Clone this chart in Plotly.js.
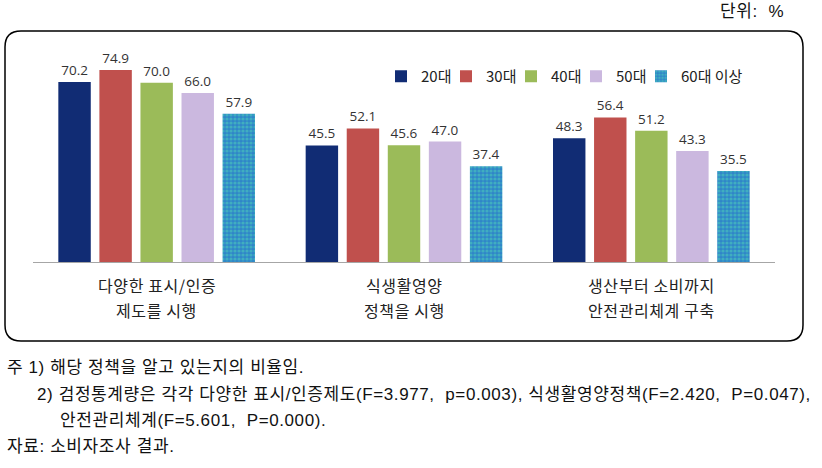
<!DOCTYPE html>
<html><head><meta charset="utf-8">
<script src="https://cdn.plot.ly/plotly-3.0.1.min.js"></script>
<style>body{margin:0;background:#fff}#c{width:822px;height:468px}
text.annotation-text{letter-spacing:0.6px}
</style>
</head><body><div id="c"></div>
<script>
const categories = ['다양한 표시/인증|제도를 시행', '식생활영양|정책을 시행', '생산부터 소비까지|안전관리체계 구축'];
const seriesNames = ['20대', '30대', '40대', '50대', '60대 이상'];
const v20 = [70.2, 45.5, 48.3];
const v30 = [74.9, 52.1, 56.4];
const v40 = [70.0, 45.6, 51.2];
const v50 = [66.0, 47.0, 43.3];
const v60 = [57.9, 37.4, 35.5];
const seriesValues = [v20, v30, v40, v50, v60];
const colors = ['#112c74', '#c0504d', '#9bbb59', '#cbb8df', '#2f93c9'];
const noteLines = [
  '주 1) 해당 정책을 알고 있는지의 비율임.',
  '2) 검정통계량은 각각 다양한 표시/인증제도(F=3.977,  p=0.003), 식생활영양정책(F=2.420,  P=0.047),',
  '안전관리체계(F=5.601,  P=0.000).',
  '자료: 소비자조사 결과.'
];

const L = 33, R = 775, T = 57, B = 262;
const W = R - L, H = B - T;
const px = x => (x - L) / W;
const py = y => (B - y) / H;

const traces = seriesValues.map((vals, i) => {
  const t = {
    type: 'bar', name: seriesNames[i], x: categories, y: vals,
    text: vals.map(v => v.toFixed(1)), textposition: 'outside',
    textfont: {family: 'Open Sans, sans-serif', size: 13.5, color: '#333'},
    cliponaxis: false, legendwidth: i === 4 ? 70 : 20,
    marker: {color: colors[i], line: {width: 0}}
  };
  if (i === 4) {
    t.marker.pattern = {shape: '.', bgcolor: '#2f86c8', fgcolor: '#52d6b8', size: 4, solidity: 0.5, fillmode: 'overlay'};
  }
  return t;
});

// rounded box
const x0 = px(5), x1 = px(803), y0 = py(341), y1 = py(31);
const rx = 16 / W, ry = 16 / H;
const box = `M ${x0+rx},${y1} L ${x1-rx},${y1} Q ${x1},${y1} ${x1},${y1-ry} L ${x1},${y0+ry} Q ${x1},${y0} ${x1-rx},${y0} L ${x0+rx},${y0} Q ${x0},${y0} ${x0},${y0+ry} L ${x0},${y1-ry} Q ${x0},${y1} ${x0+rx},${y1} Z`;

const noteFont = {family: 'Liberation Sans, Noto Sans CJK KR, sans-serif', size: 17, color: '#111'};
const notePos = [[5, 367], [35, 394], [58, 420], [5, 446]];
const annotations = noteLines.map((t, i) => ({
  text: t, xref: 'paper', yref: 'paper', x: px(notePos[i][0]), y: py(notePos[i][1]),
  xanchor: 'left', yanchor: 'middle', showarrow: false, font: noteFont
}));
annotations.push({text: '단위:  %', xref: 'paper', yref: 'paper', x: px(786), y: py(11),
  xanchor: 'right', yanchor: 'middle', showarrow: false, font: noteFont});

// category labels (two lines each)
const catFont = {family: 'Noto Sans CJK KR, sans-serif', size: 16, color: '#222'};
categories.forEach(c => {
  const parts = c.split('|');
  [[parts[0], 285], [parts[1], 310]].forEach(([t, yy]) => {
    annotations.push({text: t, xref: 'x', yref: 'paper', x: c, y: py(yy),
      xanchor: 'center', yanchor: 'middle', showarrow: false, font: catFont});
  });
});

const layout = {
  width: 822, height: 468,
  margin: {l: L, r: 822 - R, t: T, b: 468 - B},
  paper_bgcolor: '#fff', plot_bgcolor: 'rgba(0,0,0,0)',
  barmode: 'group', bargap: 0.17, bargroupgap: 0.21,
  showlegend: true,
  legend: {orientation: 'h', x: px(381), y: py(60), xanchor: 'left', yanchor: 'top',
    font: {family: 'Noto Sans CJK KR, sans-serif', size: 15, color: '#222'},
    itemwidth: 30, bgcolor: 'rgba(0,0,0,0)', traceorder: 'normal'},
  xaxis: {showline: true, linecolor: '#a6a6a6', linewidth: 1, ticks: '', showgrid: false,
    showticklabels: false, range: [-0.5, 2.5], fixedrange: true},
  yaxis: {visible: false, range: [0, 80], showgrid: false, zeroline: false},
  shapes: [{type: 'path', xref: 'paper', yref: 'paper', path: box, line: {color: '#000', width: 1.5}, fillcolor: 'rgba(0,0,0,0)'}],
  annotations: annotations
};
Plotly.newPlot('c', traces, layout, {displayModeBar: false, staticPlot: true});
</script></body></html>
